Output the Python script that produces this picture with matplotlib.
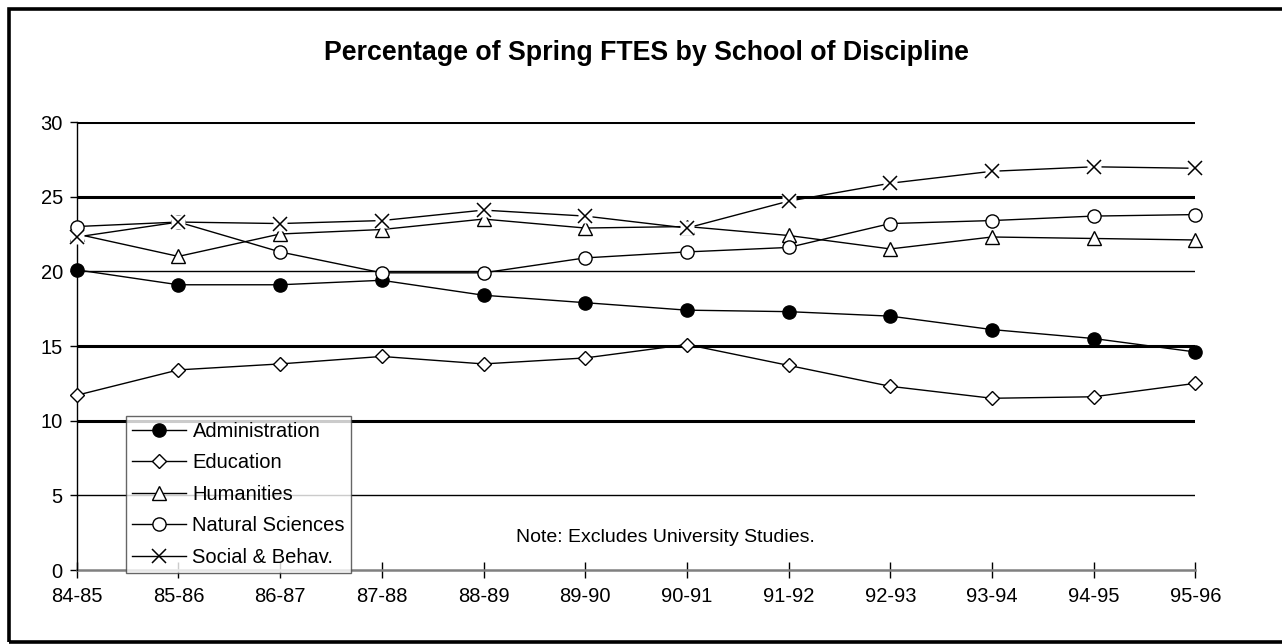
import matplotlib
matplotlib.use("Agg")
import matplotlib.pyplot as plt
from matplotlib.patches import Rectangle
from matplotlib.lines import Line2D

plt.rcParams["font.family"] = ["Liberation Sans", "DejaVu Sans"]

YEARS = ["84-85", "85-86", "86-87", "87-88", "88-89", "89-90",
         "90-91", "91-92", "92-93", "93-94", "94-95", "95-96"]

ADMINISTRATION = [20.1, 19.1, 19.1, 19.4, 18.4, 17.9, 17.4, 17.3, 17.0, 16.1, 15.5, 14.6]
EDUCATION = [11.7, 13.4, 13.8, 14.3, 13.8, 14.2, 15.1, 13.7, 12.3, 11.5, 11.6, 12.5]
HUMANITIES = [22.5, 21.0, 22.5, 22.8, 23.5, 22.9, 23.0, 22.4, 21.5, 22.3, 22.2, 22.1]
NATURAL_SCI = [23.0, 23.3, 21.3, 19.9, 19.9, 20.9, 21.3, 21.6, 23.2, 23.4, 23.7, 23.8]
SOCIAL_BEHAV = [22.3, 23.3, 23.2, 23.4, 24.1, 23.7, 22.9, 24.7, 25.9, 26.7, 27.0, 26.9]

SERIES = [
    ("Administration", ADMINISTRATION, "o", "black"),
    ("Education", EDUCATION, "D", "white"),
    ("Humanities", HUMANITIES, "^", "white"),
    ("Natural Sciences", NATURAL_SCI, "o", "white"),
    ("Social & Behav.", SOCIAL_BEHAV, "x", "none"),
]

W, H = 1282, 644
fig = plt.figure(figsize=(W / 100, H / 100), dpi=100)
ax = fig.add_axes([76.7 / W, 1 - 570 / H, (1195.4 - 76.7) / W, (570 - 122) / H])

# outer frame (right edge falls outside the picture, as in the source)
fig.patches.append(Rectangle((8.5 / W, 2.5 / H), 1.1, 1 - 11 / H,
                             transform=fig.transFigure, fill=False,
                             edgecolor="black", linewidth=2.6, clip_on=False))

# horizontal gridlines: 5 and 20 thin, rest thick
for yv in [5, 20]:
    ax.axhline(yv, color="black", linewidth=1.0, zorder=1)
for yv in [10, 15, 25, 30]:
    ax.axhline(yv, color="black", linewidth=2.2, zorder=1)

x = list(range(len(YEARS)))
handles = []
for name, vals, mk, fc in SERIES:
    if mk == "x":
        # white patch behind the cross so the lines stop short of it
        ax.plot(x, vals, color="black", linewidth=1.0, marker="s", markersize=10,
                markerfacecolor="white", markeredgecolor="none", zorder=3,
                clip_on=False)
        ax.plot(x, vals, linestyle="none", marker="x", markersize=10,
                markeredgewidth=1.1, color="black", zorder=4, clip_on=False)
        handles.append(Line2D([], [], color="black", linewidth=1.0, marker="x",
                              markersize=10, markeredgewidth=1.1))
    else:
        ms = 7.5 if mk == "D" else 9.5
        ax.plot(x, vals, color="black", linewidth=1.0, marker=mk, markersize=ms,
                markerfacecolor=fc, markeredgecolor="black", markeredgewidth=1.0,
                zorder=3, clip_on=False)
        handles.append(Line2D([], [], color="black", linewidth=1.0, marker=mk,
                              markersize=ms, markerfacecolor=fc,
                              markeredgecolor="black"))

ax.set_xlim(0, len(YEARS) - 1)
ax.set_ylim(0, 30)
ax.set_yticks([0, 5, 10, 15, 20, 25, 30])
ax.set_xticks(x)
ax.set_xticklabels(YEARS)

for side in ["top", "right"]:
    ax.spines[side].set_visible(False)
ax.spines["left"].set_linewidth(1.0)
ax.spines["bottom"].set_color("#808080")
ax.spines["bottom"].set_linewidth(1.8)
ax.spines["bottom"].set_zorder(2)

ax.tick_params(axis="y", direction="out", length=5, width=1.0, labelsize=14.5, pad=5)
ax.tick_params(axis="x", direction="inout", length=11, width=1.0, labelsize=14.5,
               pad=7, color="black")

fig.text(646 / W, 1 - 53 / H, "Percentage of Spring FTES by School of Discipline",
         ha="center", va="center", fontsize=19.3, fontweight="bold")
fig.text(665 / W, 1 - 538 / H, "Note: Excludes University Studies.",
         ha="center", va="center", fontsize=14)

leg = fig.legend(handles, [s[0] for s in SERIES],
                 loc="lower left", bbox_to_anchor=(126 / W, 1 - 573 / H),
                 fontsize=14.5, frameon=True, fancybox=False, edgecolor="#404040",
                 handlelength=2.7, handletextpad=0.3, labelspacing=0.62,
                 borderpad=0.3, borderaxespad=0.0)
leg.get_frame().set_linewidth(1.0)
leg.set_zorder(10)

fig.savefig("out.png", dpi=100)
